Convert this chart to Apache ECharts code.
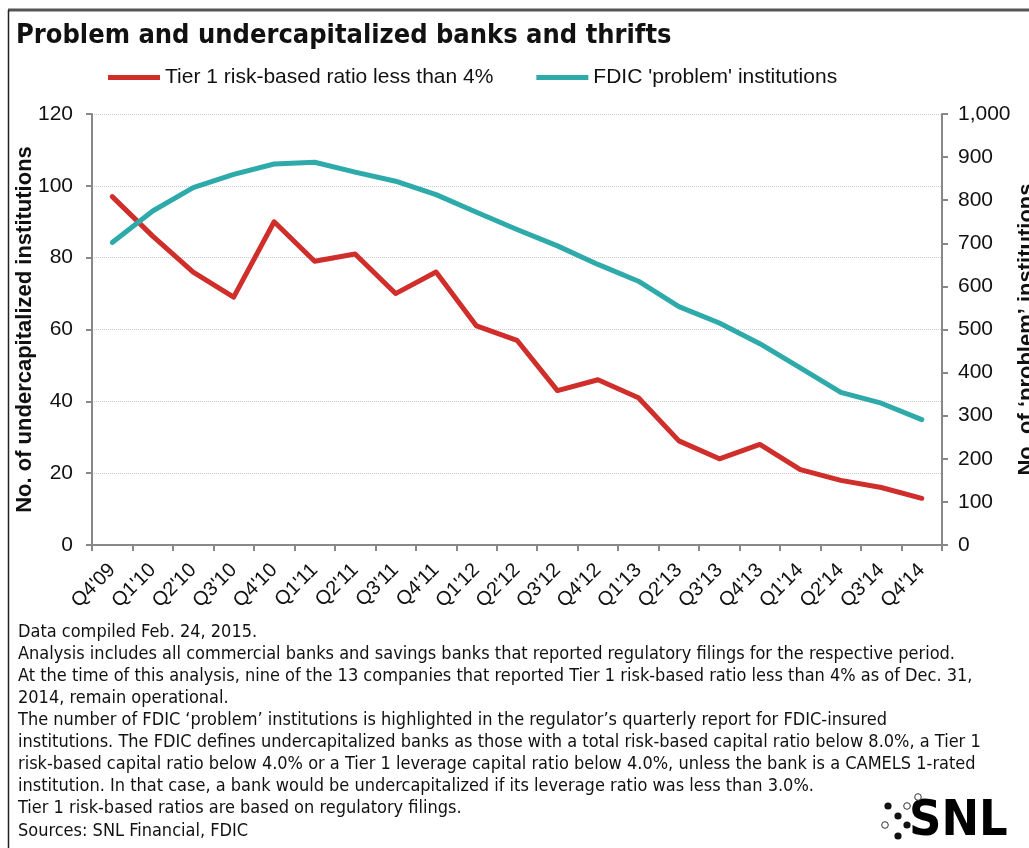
<!DOCTYPE html>
<html>
<head>
<meta charset="utf-8">
<script src="https://cdn.jsdelivr.net/npm/echarts@6/dist/echarts.min.js"></script>
<style>
html,body{margin:0;padding:0;background:#fff;overflow:hidden;}
#chart{width:1029px;height:848px;}
</style>
</head>
<body>
<div id="chart"></div>
<script>
var categories = ["Q4'09","Q1'10","Q2'10","Q3'10","Q4'10","Q1'11","Q2'11","Q3'11","Q4'11","Q1'12","Q2'12","Q3'12","Q4'12","Q1'13","Q2'13","Q3'13","Q4'13","Q1'14","Q2'14","Q3'14","Q4'14"];
var tier1Below4 = [97,86,76,69,90,79,81,70,76,61,57,43,46,41,29,24,28,21,18,16,13];
var fdicProblem = [702,775,829,860,884,888,865,844,813,772,732,694,651,612,553,515,467,411,354,329,291];
var seriesNames = ["Tier 1 risk-based ratio less than 4%", "FDIC 'problem' institutions"];
var titleText = "Problem and undercapitalized banks and thrifts";
var footnotes = [
  "Data compiled Feb. 24, 2015.",
  "Analysis includes all commercial banks and savings banks that reported regulatory filings for the respective period.",
  "At the time of this analysis, nine of the 13 companies that reported Tier 1 risk-based ratio less than 4% as of Dec. 31,",
  "2014, remain operational.",
  "The number of FDIC \u2018problem\u2019 institutions is highlighted in the regulator\u2019s quarterly report for FDIC-insured",
  "institutions. The FDIC defines undercapitalized banks as those with a total risk-based capital ratio below 8.0%, a Tier 1",
  "risk-based capital ratio below 4.0% or a Tier 1 leverage capital ratio below 4.0%, unless the bank is a CAMELS 1-rated",
  "institution. In that case, a bank would be undercapitalized if its leverage ratio was less than 3.0%.",
  "Tier 1 risk-based ratios are based on regulatory filings.",
  "Sources: SNL Financial, FDIC"
];

var RED = '#CF2E2B', TEAL = '#2FAAAA';
var narrow = '"Liberation Sans Narrow", "DejaVu Sans Condensed", "Liberation Sans", sans-serif';
var sans = '"Liberation Sans", Arial, sans-serif';

var graphics = [
  {type:'line', shape:{x1:8,y1:10,x2:1029,y2:10}, style:{stroke:'#555',lineWidth:3}},
  {type:'line', shape:{x1:8.5,y1:10,x2:8.5,y2:848}, style:{stroke:'#222',lineWidth:1.5}},
  {type:'text', left:16, top:22, style:{text:titleText, font:'bold 27px ' + narrow, fill:'#111'}}
];
footnotes.forEach(function(t,i){
  graphics.push({type:'text', left:18, top:623 + i*22.1, style:{text:t, font:'18px ' + narrow, fill:'#111'}});
});
// SNL logo
graphics.push({type:'text', left:909, top:797, style:{text:'SNL', font:'bold 50px ' + narrow, fill:'#000'}});
[[888,806],[898,816],[907,825],[898,836]].forEach(function(p){
  graphics.push({type:'circle', shape:{cx:p[0],cy:p[1],r:3.6}, style:{fill:'#111'}});
});
[[885,825],[907,806],[918,797]].forEach(function(p){
  graphics.push({type:'circle', shape:{cx:p[0],cy:p[1],r:3.3}, style:{fill:'#fff',stroke:'#333',lineWidth:1}});
});

var chart = echarts.init(document.getElementById('chart'));
chart.setOption({
  animation:false,
  backgroundColor:'#fff',
  graphic: graphics,
  legend:{
    left:103, top:62, itemWidth:52, itemHeight:5, itemGap:43,
    icon:'rect',
    textStyle:{fontFamily:sans, fontSize:21, color:'#111'},
    data: seriesNames
  },
  grid:{left:92, right:87, top:114, bottom:303, containLabel:false, outerBoundsMode:'none'},
  xAxis:{
    type:'category', data:categories, boundaryGap:true,
    axisLine:{lineStyle:{color:'#888',width:2}},
    axisTick:{show:true, length:6, lineStyle:{color:'#888',width:2}, alignWithLabel:false},
    axisLabel:{rotate:45, fontFamily:sans, fontSize:20, color:'#111', margin:22, interval:0}
  },
  yAxis:[
    {type:'value', min:0, max:120, interval:20, position:'left',
     name:'No. of undercapitalized institutions', nameLocation:'middle', nameRotate:90, nameGap:56,
     nameMoveOverlap:false,
     nameTextStyle:{fontFamily:sans, fontSize:22, fontWeight:'bold', color:'#111'},
     axisLine:{show:true, lineStyle:{color:'#888',width:2}},
     axisTick:{show:true, length:6, lineStyle:{color:'#888',width:2}},
     axisLabel:{fontFamily:sans, fontSize:21, color:'#111', margin:19},
     splitLine:{show:true, lineStyle:{color:'#ccc', type:'dotted', width:1}}},
    {type:'value', min:0, max:1000, interval:100, position:'right',
     name:'No. of \u2018problem\u2019 institutions', nameLocation:'middle', nameRotate:90, nameGap:74,
     nameMoveOverlap:false,
     nameTextStyle:{fontFamily:sans, fontSize:22, fontWeight:'bold', color:'#111'},
     axisLine:{show:true, lineStyle:{color:'#888',width:2}},
     axisTick:{show:true, length:6, lineStyle:{color:'#888',width:2}},
     axisLabel:{fontFamily:sans, fontSize:21, color:'#111', margin:16,
       formatter:function(v){return v.toLocaleString('en-US');}},
     splitLine:{show:false}}
  ],
  series:[
    {name:seriesNames[0], type:'line', yAxisIndex:0, data:tier1Below4, symbol:'none',
     lineStyle:{color:RED, width:5, cap:'round', join:'round'}, itemStyle:{color:RED}},
    {name:seriesNames[1], type:'line', yAxisIndex:1, data:fdicProblem, symbol:'none',
     lineStyle:{color:TEAL, width:5, cap:'round', join:'round'}, itemStyle:{color:TEAL}}
  ]
});
</script>
</body>
</html>
